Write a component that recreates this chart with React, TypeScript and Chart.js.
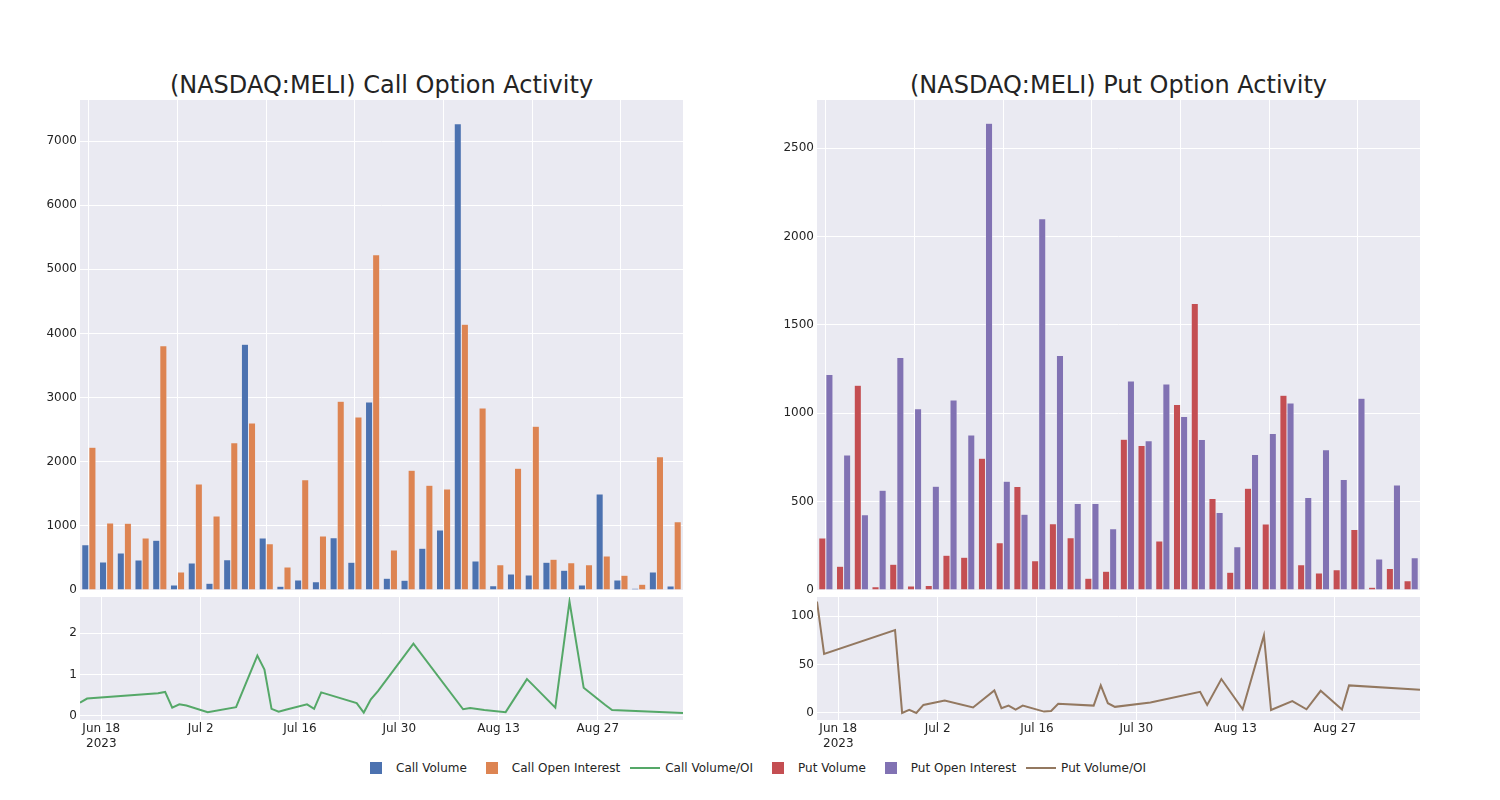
import React, { useEffect, useRef } from "react";
import { Chart, registerables } from "chart.js";

Chart.register(...registerables);

// ---------- data ----------
const dates = [
  "2023-06-15", "2023-06-16", "2023-06-26", "2023-06-27", "2023-06-28", "2023-06-29",
  "2023-06-30", "2023-07-03", "2023-07-07", "2023-07-10", "2023-07-11", "2023-07-12",
  "2023-07-13", "2023-07-14", "2023-07-17", "2023-07-18", "2023-07-19", "2023-07-24",
  "2023-07-25", "2023-07-26", "2023-07-27", "2023-08-01", "2023-08-08", "2023-08-09",
  "2023-08-11", "2023-08-14", "2023-08-17", "2023-08-18", "2023-08-21", "2023-08-23",
  "2023-08-25", "2023-08-28", "2023-08-29", "2023-09-08",
];

const callVolume = [707, 437, 577, 468, 774, 78, 421, 104, 473, 3831, 811, 57, 156, 130, 816, 431, 2931, 182, 151, 650, 936, 7271, 452, 68, 249, 234, 431, 307, 78, 1497, 156, 26, 281, 62];
const callOpenInterest = [2225, 1045, 1040, 811, 3810, 281, 1653, 1154, 2297, 2604, 722, 359, 1720, 842, 2942, 2698, 5229, 624, 1866, 1632, 1575, 4142, 2838, 395, 1897, 2552, 478, 426, 395, 530, 229, 88, 2079, 1066];
const callVolumeOI = [0.32, 0.42, 0.55, 0.58, 0.2, 0.28, 0.25, 0.09, 0.21, 1.46, 1.12, 0.17, 0.1, 0.15, 0.28, 0.17, 0.57, 0.31, 0.08, 0.4, 0.6, 1.75, 0.16, 0.19, 0.14, 0.09, 0.89, 0.72, 0.2, 2.77, 0.68, 0.27, 0.14, 0.07];

const putVolume = [294, 134, 1158, 19, 145, 23, 26, 196, 185, 745, 268, 585, 166, 375, 296, 66, 106, 853, 817, 277, 1049, 1621, 517, 100, 575, 374, 1102, 143, 96, 115, 342, 15, 121, 53];
const putOpenInterest = [1219, 764, 425, 564, 1315, 1026, 587, 1075, 877, 2640, 615, 428, 2100, 1326, 489, 489, 347, 1183, 845, 1166, 981, 851, 438, 245, 766, 885, 1058, 523, 794, 625, 1085, 175, 594, 183];
const putVolumeOI = [115.3, 61.1, 85.8, 0, 3.1, 0, 8.3, 12.8, 5.6, 23.3, 4.9, 7.6, 3.5, 7.6, 1.4, 2.1, 9.4, 7.6, 28.5, 10.1, 6.3, 10.8, 21.9, 8.3, 35.1, 3.8, 80.2, 3.1, 12.2, 3.8, 22.9, 3.5, 28.5, 24.0];

const dateTicks = ["2023-06-18", "2023-07-02", "2023-07-16", "2023-07-30", "2023-08-13", "2023-08-27"];
const callBarTicks = [0, 1000, 2000, 3000, 4000, 5000, 6000, 7000];
const putBarTicks = [0, 500, 1000, 1500, 2000, 2500];
const callRatioTicks = [0, 1, 2];
const putRatioTicks = [0, 50, 100];

// ---------- styling ----------
const FONT = "'DejaVu Sans', sans-serif";
const TXT = "rgb(36,36,36)";
const BG = "#EAEAF2";
const COLORS = {
  callVol: "#4C72B0",
  callOI: "#DD8452",
  callRatio: "#55A868",
  putVol: "#C44E52",
  putOI: "#8172B3",
  putRatio: "#937860",
};
const DAY = 86400000;
const BASE = Date.UTC(2023, 5, 18);
const toDay = (s: string) => {
  const [y, m, d] = s.split("-").map(Number);
  return (Date.UTC(y, m - 1, d) - BASE) / DAY;
};
const MONTHS = ["Jan", "Feb", "Mar", "Apr", "May", "Jun", "Jul", "Aug", "Sep", "Oct", "Nov", "Dec"];

const plotBg = {
  id: "plotBg",
  beforeDraw(chart: any) {
    const { ctx, chartArea: a } = chart;
    ctx.save();
    ctx.fillStyle = BG;
    ctx.fillRect(a.left, a.top, a.right - a.left, a.bottom - a.top);
    ctx.restore();
  },
};

const fixPad = (w?: number, h?: number) => (s: any) => {
  if (w !== undefined) s.width = w;
  if (h !== undefined) s.height = h;
  s.paddingTop = 0;
  s.paddingBottom = 0;
  s.paddingLeft = 0;
  s.paddingRight = 0;
};

function barConfig(
  labels: string[],
  a: { label: string; data: number[]; color: string },
  b: { label: string; data: number[]; color: string },
  ticks: number[],
  maxV: number
): any {
  const ds = (d: any) => ({
    label: d.label,
    data: d.data,
    backgroundColor: d.color,
    borderColor: "rgba(234,234,242,0.9)",
    borderWidth: 0.5,
    categoryPercentage: 0.8,
    barPercentage: 1,
  });
  return {
    type: "bar",
    data: { labels, datasets: [ds(a), ds(b)] },
    options: {
      animation: false,
      responsive: false,
      maintainAspectRatio: false,
      events: [],
      layout: { padding: { top: 10, bottom: 10, left: 0, right: 17 } },
      plugins: { legend: { display: false }, tooltip: { enabled: false } },
      scales: {
        x: {
          offset: true,
          grid: {
            offset: false,
            drawTicks: false,
            lineWidth: 1,
            color: (c: any) => (c.index % 5 === 0 ? "#ffffff" : "rgba(0,0,0,0)"),
          },
          border: { display: false },
          ticks: { display: false, autoSkip: false },
          afterFit: fixPad(undefined, 0),
        },
        y: {
          min: 0,
          max: maxV,
          afterBuildTicks: (s: any) => {
            s.ticks = ticks.map((v) => ({ value: v }));
          },
          grid: { color: "#ffffff", drawTicks: false, lineWidth: 1 },
          border: { display: false },
          ticks: {
            padding: 3,
            color: TXT,
            font: { family: FONT, size: 12 },
            callback: (v: number) => String(v),
          },
          afterFit: fixPad(80),
        },
      },
    },
    plugins: [plotBg],
  };
}

function lineConfig(
  label: string,
  values: number[],
  color: string,
  ticks: number[],
  minV: number,
  maxV: number
): any {
  const xs = dates.map(toDay);
  return {
    type: "line",
    data: {
      datasets: [
        {
          label,
          data: values.map((v, i) => ({ x: xs[i], y: v })),
          borderColor: color,
          backgroundColor: color,
          borderWidth: 2,
          pointRadius: 0,
          tension: 0,
        },
      ],
    },
    options: {
      animation: false,
      responsive: false,
      maintainAspectRatio: false,
      events: [],
      layout: { padding: { top: 7, bottom: 0, left: 0, right: 17 } },
      plugins: { legend: { display: false }, tooltip: { enabled: false } },
      scales: {
        x: {
          type: "linear",
          min: xs[0],
          max: xs[xs.length - 1],
          afterBuildTicks: (s: any) => {
            s.ticks = dateTicks.map((d) => ({ value: toDay(d) }));
          },
          grid: { color: "#ffffff", drawTicks: false, lineWidth: 1 },
          border: { display: false },
          ticks: {
            autoSkip: false,
            maxRotation: 0,
            padding: 2,
            color: TXT,
            font: { family: FONT, size: 12 },
            callback: (v: number, i: number) => {
              const d = new Date(BASE + v * DAY);
              const s = MONTHS[d.getUTCMonth()] + " " + d.getUTCDate();
              return i === 0 ? [s, String(d.getUTCFullYear())] : s;
            },
          },
          afterFit: fixPad(undefined, 40),
        },
        y: {
          min: minV,
          max: maxV,
          afterBuildTicks: (s: any) => {
            s.ticks = ticks.map((v) => ({ value: v }));
          },
          grid: { color: "#ffffff", drawTicks: false, lineWidth: 1 },
          border: { display: false },
          ticks: {
            padding: 3,
            color: TXT,
            font: { family: FONT, size: 12 },
            callback: (v: number) => String(v),
          },
          afterFit: fixPad(80),
        },
      },
    },
    plugins: [plotBg],
  };
}

function ChartBox(props: { config: any; left: number; top: number; width: number; height: number }) {
  const ref = useRef<HTMLCanvasElement>(null);
  const { config, left, top, width, height } = props;
  useEffect(() => {
    const chart = new Chart(ref.current as HTMLCanvasElement, config);
    return () => chart.destroy();
  }, []);
  return (
    <canvas
      ref={ref}
      width={width}
      height={height}
      style={{ position: "absolute", left, top, width, height }}
    />
  );
}

function Title(props: { text: string; center: number }) {
  return (
    <div
      style={{
        position: "absolute",
        left: props.center - 300,
        width: 600,
        top: 73,
        textAlign: "center",
        fontFamily: FONT,
        fontSize: 24,
        lineHeight: "24px",
        color: TXT,
        whiteSpace: "nowrap",
      }}
    >
      {props.text}
    </div>
  );
}

const legendItems = [
  { label: "Call Volume", color: COLORS.callVol, kind: "box" },
  { label: "Call Open Interest", color: COLORS.callOI, kind: "box" },
  { label: "Call Volume/OI", color: COLORS.callRatio, kind: "line" },
  { label: "Put Volume", color: COLORS.putVol, kind: "box" },
  { label: "Put Open Interest", color: COLORS.putOI, kind: "box" },
  { label: "Put Volume/OI", color: COLORS.putRatio, kind: "line" },
];

function Legend() {
  return (
    <div
      style={{
        position: "absolute",
        left: 356,
        top: 761,
        display: "flex",
        alignItems: "center",
        fontFamily: FONT,
        fontSize: 12,
        lineHeight: "14px",
        color: TXT,
        whiteSpace: "nowrap",
      }}
    >
      {legendItems.map((it) => (
        <div key={it.label} style={{ display: "flex", alignItems: "center", marginRight: 5 }}>
          <div style={{ width: 40, height: 14, position: "relative" }}>
            {it.kind === "box" ? (
              <div
                style={{
                  position: "absolute",
                  left: 14,
                  top: 1,
                  width: 12,
                  height: 12,
                  background: it.color,
                }}
              />
            ) : (
              <div
                style={{
                  position: "absolute",
                  left: 5,
                  top: 6,
                  width: 30,
                  height: 2,
                  background: it.color,
                }}
              />
            )}
          </div>
          <span>{it.label}</span>
        </div>
      ))}
    </div>
  );
}

export default function App() {
  const callBar = barConfig(
    dates,
    { label: "Call Volume", data: callVolume, color: COLORS.callVol },
    { label: "Call Open Interest", data: callOpenInterest, color: COLORS.callOI },
    callBarTicks,
    7640
  );
  const putBar = barConfig(
    dates,
    { label: "Put Volume", data: putVolume, color: COLORS.putVol },
    { label: "Put Open Interest", data: putOpenInterest, color: COLORS.putOI },
    putBarTicks,
    2772
  );
  const callLine = lineConfig("Call Volume/OI", callVolumeOI, COLORS.callRatio, callRatioTicks, -0.1, 2.88);
  const putLine = lineConfig("Put Volume/OI", putVolumeOI, COLORS.putRatio, putRatioTicks, -7.3, 120);

  return (
    <div
      style={{
        position: "fixed",
        left: 0,
        top: 0,
        width: 1500,
        height: 800,
        background: "#ffffff",
        overflow: "hidden",
      }}
    >
      <Title text="(NASDAQ:MELI) Call Option Activity" center={381.5} />
      <Title text="(NASDAQ:MELI) Put Option Activity" center={1118.5} />
      <ChartBox config={callBar} left={0} top={90} width={700} height={510} />
      <ChartBox config={callLine} left={0} top={590} width={700} height={170} />
      <ChartBox config={putBar} left={737} top={90} width={700} height={510} />
      <ChartBox config={putLine} left={737} top={590} width={700} height={170} />
      <Legend />
    </div>
  );
}
